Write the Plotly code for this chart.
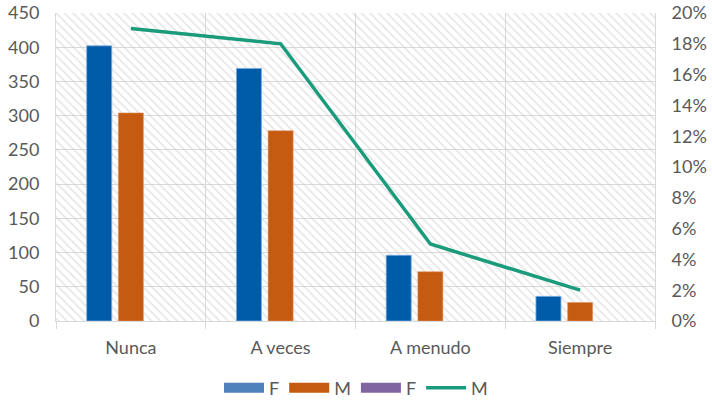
import plotly.graph_objects as go

categories = ["Nunca", "A veces", "A menudo", "Siempre"]
f_values = [402, 369, 96, 36]
m_values = [304, 278, 72, 27]
f2_values = [None, None, None, None]
m_pct = [0.19, 0.18, 0.05, 0.02]
y_max = 450
background = [y_max] * len(categories)
empty = [None] * len(categories)

FONT = "Lato"
TXT = "#595959"
GRID = "#d9d9d9"
BLUE = "#005ca9"
BLUE_LEG = "#4f81bd"
ORANGE = "#c55a11"
PURPLE = "#8064a2"
GREEN = "#1a9c7c"

bw = 0.167
fig = go.Figure()

# hatched plot-area background
fig.add_trace(go.Bar(
    x=categories, y=background, width=1, offset=-0.5,
    marker=dict(color="rgba(0,0,0,0)", line=dict(width=0),
                pattern=dict(shape="\\", fgcolor="#cccccc", bgcolor="rgba(0,0,0,0)",
                             size=6, solidity=0.28)),
    showlegend=False, hoverinfo="skip"))

fig.add_trace(go.Bar(x=categories, y=f_values, name="F", width=bw, offset=-0.295,
                     marker=dict(color=BLUE, line=dict(width=1, color="rgba(120,170,225,0.8)")),
                     showlegend=False))
fig.add_trace(go.Bar(x=categories, y=m_values, name="M", width=bw, offset=-0.0835,
                     marker=dict(color=ORANGE, line=dict(width=1, color="rgba(230,150,100,0.6)")),
                     showlegend=False))
fig.add_trace(go.Bar(x=categories, y=f2_values, name="F", width=bw, offset=0.128,
                     marker=dict(color=PURPLE, line=dict(width=0)), showlegend=False))

# legend entries (wide colour swatches as in the original)
for nm, col in [("F", BLUE_LEG), ("M", ORANGE), ("F", PURPLE)]:
    fig.add_trace(go.Scatter(x=categories, y=empty, name=nm, mode="lines",
                             line=dict(color=col, width=13), hoverinfo="skip"))

fig.add_trace(go.Scatter(x=categories, y=m_pct, name="M", yaxis="y2", mode="lines",
                         line=dict(color=GREEN, width=3.5)))

fig.update_layout(
    width=712, height=403,
    margin=dict(l=56, r=57, t=13, b=82, autoexpand=False),
    paper_bgcolor="white", plot_bgcolor="white",
    barmode="overlay",
    font=dict(family=FONT, size=18, color=TXT),
    xaxis=dict(type="category", tickson="boundaries", showgrid=True, gridcolor=GRID,
               gridwidth=1, ticks="outside", ticklen=7, tickcolor=GRID,
               showline=True, linecolor=GRID, linewidth=1, ticklabelstandoff=10,
               tickfont=dict(family=FONT, size=18, color=TXT), range=[-0.5, 3.5]),
    yaxis=dict(range=[0, y_max], dtick=50, showgrid=True, gridcolor=GRID, gridwidth=1,
               zeroline=False, showline=True, linecolor=GRID, ticks="",
               ticklabelstandoff=12,
               tickfont=dict(family=FONT, size=18, color=TXT)),
    yaxis2=dict(overlaying="y", side="right", range=[0, 0.2], dtick=0.02,
                tickformat=".0%", showgrid=False, zeroline=False,
                showline=True, linecolor=GRID, ticklabelstandoff=12,
                tickfont=dict(family=FONT, size=18, color=TXT)),
    legend=dict(orientation="h", x=0.5, xanchor="center", xref="container",
                y=(403 - 388) / 403, yanchor="middle", yref="container",
                font=dict(family=FONT, size=18, color=TXT), itemwidth=40,
                traceorder="normal"),
    showlegend=True,
)

fig.write_html("out.html")
